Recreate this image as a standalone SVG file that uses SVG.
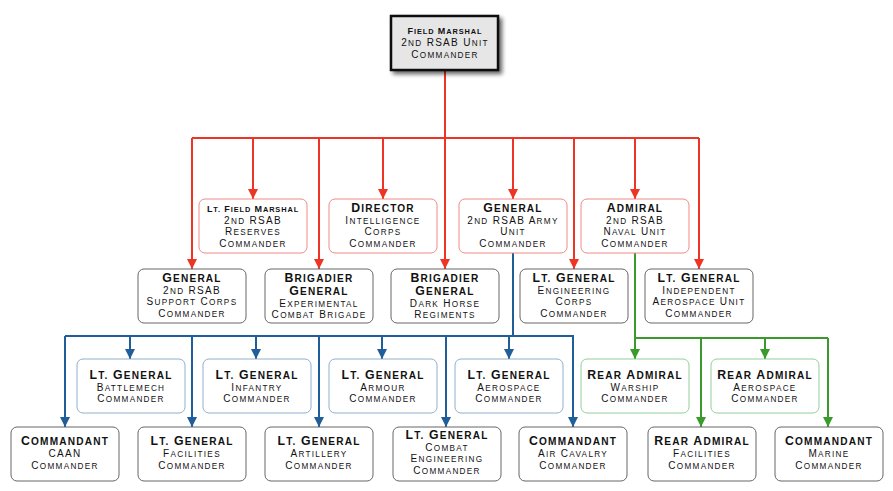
<svg xmlns="http://www.w3.org/2000/svg" width="893" height="491" viewBox="0 0 893 491">
<defs>
<marker id="ar" markerUnits="userSpaceOnUse" markerWidth="10" markerHeight="10" refX="4" refY="8" viewBox="0 0 8 8"><path d="M0,0 L8,0 L4,8 Z" fill="#ee3424"/></marker>
<marker id="ab" markerUnits="userSpaceOnUse" markerWidth="10" markerHeight="10" refX="4" refY="8" viewBox="0 0 8 8"><path d="M0,0 L8,0 L4,8 Z" fill="#1f5e98"/></marker>
<marker id="ag" markerUnits="userSpaceOnUse" markerWidth="10" markerHeight="10" refX="4" refY="8" viewBox="0 0 8 8"><path d="M0,0 L8,0 L4,8 Z" fill="#3a9a2c"/></marker>
<filter id="sh" x="-20%" y="-20%" width="150%" height="160%"><feGaussianBlur in="SourceAlpha" stdDeviation="2"/><feOffset dx="3" dy="3"/><feComponentTransfer><feFuncA type="linear" slope="0.6"/></feComponentTransfer><feMerge><feMergeNode/><feMergeNode in="SourceGraphic"/></feMerge></filter>
</defs>
<style>
text{font-family:"Liberation Sans",Arial,sans-serif;text-anchor:middle;fill:#111}
.l{font-size:0.82em;text-transform:uppercase}
.t{font-size:12.3px;font-weight:bold;letter-spacing:1.2px}
.ts{font-size:9px;font-weight:bold;letter-spacing:0.9px}
.s{font-size:10px;letter-spacing:1.3px}
.n{fill:#fff;stroke:#666;stroke-width:1}
.r{fill:#fff;stroke:#f08a86;stroke-width:1}
.b{fill:#fff;stroke:#8fb0cf;stroke-width:1}
.g{fill:#fff;stroke:#93cf9a;stroke-width:1}
.cr{fill:none;stroke:#ee3424;stroke-width:2}
.cb{fill:none;stroke:#1f5e98;stroke-width:2}
.cg{fill:none;stroke:#3a9a2c;stroke-width:2}
</style>
<g id="connectors">
<path class="cr" d="M445,70 V138 M192,138 H699"/>
<path class="cr" marker-end="url(#ar)" d="M192,138 V269"/>
<path class="cr" marker-end="url(#ar)" d="M253,138 V199"/>
<path class="cr" marker-end="url(#ar)" d="M319,138 V269"/>
<path class="cr" marker-end="url(#ar)" d="M383,138 V199"/>
<path class="cr" marker-end="url(#ar)" d="M445,138 V269"/>
<path class="cr" marker-end="url(#ar)" d="M513,138 V199"/>
<path class="cr" marker-end="url(#ar)" d="M574,138 V269"/>
<path class="cr" marker-end="url(#ar)" d="M635,138 V199"/>
<path class="cr" marker-end="url(#ar)" d="M699,138 V269"/>
<path class="cb" d="M513,253 V336 M65,336 H574"/>
<path class="cb" marker-end="url(#ab)" d="M65,336 V427"/>
<path class="cb" marker-end="url(#ab)" d="M130,336 V359"/>
<path class="cb" marker-end="url(#ab)" d="M192,336 V427"/>
<path class="cb" marker-end="url(#ab)" d="M256,336 V359"/>
<path class="cb" marker-end="url(#ab)" d="M319,336 V427"/>
<path class="cb" marker-end="url(#ab)" d="M382,336 V359"/>
<path class="cb" marker-end="url(#ab)" d="M446,336 V427"/>
<path class="cb" marker-end="url(#ab)" d="M509,336 V359"/>
<path class="cb" marker-end="url(#ab)" d="M573,336 V427"/>
<path class="cg" d="M635,253 V338 H828"/>
<path class="cg" marker-end="url(#ag)" d="M635,338 V359"/>
<path class="cg" marker-end="url(#ag)" d="M701,338 V427"/>
<path class="cg" marker-end="url(#ag)" d="M765,338 V359"/>
<path class="cg" marker-end="url(#ag)" d="M828,338 V427"/>
</g>
<g id="n-fieldmarshal">
<rect x="391" y="16" width="107" height="54" fill="#e6e6e6" stroke="#111" stroke-width="2.5" filter="url(#sh)"/>
<text class="ts" x="445" y="33.5">F<tspan class="l">ield</tspan> M<tspan class="l">arshal</tspan></text>
<text class="s" x="445" y="45.5">2<tspan class="l">nd</tspan> RSAB U<tspan class="l">nit</tspan></text>
<text class="s" x="445" y="57.5">C<tspan class="l">ommander</tspan></text>
</g>
<g id="n-ltfieldmarshal">
<rect class="r" x="199" y="199" width="108" height="54" rx="6"/>
<text class="ts" x="253" y="211.5">L<tspan class="l">t.</tspan> F<tspan class="l">ield</tspan> M<tspan class="l">arshal</tspan></text>
<text class="s" x="253" y="223.8">2<tspan class="l">nd</tspan> RSAB</text>
<text class="s" x="253" y="235.4">R<tspan class="l">eserves</tspan></text>
<text class="s" x="253" y="247">C<tspan class="l">ommander</tspan></text>
</g>
<g id="n-director">
<rect class="r" x="329" y="199" width="108" height="54" rx="6"/>
<text class="t" x="383" y="212">D<tspan class="l">irector</tspan></text>
<text class="s" x="383" y="223.8">I<tspan class="l">ntelligence</tspan></text>
<text class="s" x="383" y="235.4">C<tspan class="l">orps</tspan></text>
<text class="s" x="383" y="247">C<tspan class="l">ommander</tspan></text>
</g>
<g id="n-general-army">
<rect class="r" x="459" y="199" width="108" height="54" rx="6"/>
<text class="t" x="513" y="212">G<tspan class="l">eneral</tspan></text>
<text class="s" x="513" y="223.8">2<tspan class="l">nd</tspan> RSAB A<tspan class="l">rmy</tspan></text>
<text class="s" x="513" y="235.4">U<tspan class="l">nit</tspan></text>
<text class="s" x="513" y="247">C<tspan class="l">ommander</tspan></text>
</g>
<g id="n-admiral">
<rect class="r" x="581" y="199" width="108" height="54" rx="6"/>
<text class="t" x="635" y="212">A<tspan class="l">dmiral</tspan></text>
<text class="s" x="635" y="223.8">2<tspan class="l">nd</tspan> RSAB</text>
<text class="s" x="635" y="235.4">N<tspan class="l">aval</tspan> U<tspan class="l">nit</tspan></text>
<text class="s" x="635" y="247">C<tspan class="l">ommander</tspan></text>
</g>
<g id="n-general-support">
<rect class="n" x="138" y="269" width="108" height="54" rx="6"/>
<text class="t" x="192" y="282">G<tspan class="l">eneral</tspan></text>
<text class="s" x="192" y="293.8">2<tspan class="l">nd</tspan> RSAB</text>
<text class="s" x="192" y="305.4">S<tspan class="l">upport</tspan> C<tspan class="l">orps</tspan></text>
<text class="s" x="192" y="317">C<tspan class="l">ommander</tspan></text>
</g>
<g id="n-brig-experimental">
<rect class="n" x="265" y="269" width="108" height="54" rx="6"/>
<text class="t" x="319" y="281.5">B<tspan class="l">rigadier</tspan></text>
<text class="t" x="319" y="294.5">G<tspan class="l">eneral</tspan></text>
<text class="s" x="319" y="306.5">E<tspan class="l">xperimental</tspan></text>
<text class="s" x="319" y="318">C<tspan class="l">ombat</tspan> B<tspan class="l">rigade</tspan></text>
</g>
<g id="n-brig-darkhorse">
<rect class="n" x="391" y="269" width="108" height="54" rx="6"/>
<text class="t" x="445" y="281.5">B<tspan class="l">rigadier</tspan></text>
<text class="t" x="445" y="294.5">G<tspan class="l">eneral</tspan></text>
<text class="s" x="445" y="306.5">D<tspan class="l">ark</tspan> H<tspan class="l">orse</tspan></text>
<text class="s" x="445" y="318">R<tspan class="l">egiments</tspan></text>
</g>
<g id="n-ltgen-engineering">
<rect class="n" x="520" y="269" width="108" height="54" rx="6"/>
<text class="t" x="574" y="282">L<tspan class="l">t.</tspan> G<tspan class="l">eneral</tspan></text>
<text class="s" x="574" y="293.8">E<tspan class="l">ngineering</tspan></text>
<text class="s" x="574" y="305.4">C<tspan class="l">orps</tspan></text>
<text class="s" x="574" y="317">C<tspan class="l">ommander</tspan></text>
</g>
<g id="n-ltgen-aerospaceunit">
<rect class="n" x="645" y="269" width="108" height="54" rx="6"/>
<text class="t" x="699" y="282">L<tspan class="l">t.</tspan> G<tspan class="l">eneral</tspan></text>
<text class="s" x="699" y="293.8">I<tspan class="l">ndependent</tspan></text>
<text class="s" x="699" y="305.4">A<tspan class="l">erospace</tspan> U<tspan class="l">nit</tspan></text>
<text class="s" x="699" y="317">C<tspan class="l">ommander</tspan></text>
</g>
<g id="n-battlemech">
<rect class="b" x="77" y="359" width="108" height="54" rx="6"/>
<text class="t" x="131" y="378.5">L<tspan class="l">t.</tspan> G<tspan class="l">eneral</tspan></text>
<text class="s" x="131" y="390.5">B<tspan class="l">attlemech</tspan></text>
<text class="s" x="131" y="402">C<tspan class="l">ommander</tspan></text>
</g>
<g id="n-infantry">
<rect class="b" x="203" y="359" width="108" height="54" rx="6"/>
<text class="t" x="257" y="378.5">L<tspan class="l">t.</tspan> G<tspan class="l">eneral</tspan></text>
<text class="s" x="257" y="390.5">I<tspan class="l">nfantry</tspan></text>
<text class="s" x="257" y="402">C<tspan class="l">ommander</tspan></text>
</g>
<g id="n-armour">
<rect class="b" x="329" y="359" width="108" height="54" rx="6"/>
<text class="t" x="383" y="378.5">L<tspan class="l">t.</tspan> G<tspan class="l">eneral</tspan></text>
<text class="s" x="383" y="390.5">A<tspan class="l">rmour</tspan></text>
<text class="s" x="383" y="402">C<tspan class="l">ommander</tspan></text>
</g>
<g id="n-aerospace">
<rect class="b" x="455" y="359" width="108" height="54" rx="6"/>
<text class="t" x="509" y="378.5">L<tspan class="l">t.</tspan> G<tspan class="l">eneral</tspan></text>
<text class="s" x="509" y="390.5">A<tspan class="l">erospace</tspan></text>
<text class="s" x="509" y="402">C<tspan class="l">ommander</tspan></text>
</g>
<g id="n-warship">
<rect class="g" x="581" y="359" width="108" height="54" rx="6"/>
<text class="t" x="635" y="378.5">R<tspan class="l">ear</tspan> A<tspan class="l">dmiral</tspan></text>
<text class="s" x="635" y="390.5">W<tspan class="l">arship</tspan></text>
<text class="s" x="635" y="402">C<tspan class="l">ommander</tspan></text>
</g>
<g id="n-ra-aerospace">
<rect class="g" x="711" y="359" width="108" height="54" rx="6"/>
<text class="t" x="765" y="378.5">R<tspan class="l">ear</tspan> A<tspan class="l">dmiral</tspan></text>
<text class="s" x="765" y="390.5">A<tspan class="l">erospace</tspan></text>
<text class="s" x="765" y="402">C<tspan class="l">ommander</tspan></text>
</g>
<g id="n-caan">
<rect class="n" x="11" y="427" width="108" height="54" rx="6"/>
<text class="t" x="65" y="445">C<tspan class="l">ommandant</tspan></text>
<text class="s" x="65" y="457">CAAN</text>
<text class="s" x="65" y="468.8">C<tspan class="l">ommander</tspan></text>
</g>
<g id="n-facilities">
<rect class="n" x="138" y="427" width="108" height="54" rx="6"/>
<text class="t" x="192" y="445">L<tspan class="l">t.</tspan> G<tspan class="l">eneral</tspan></text>
<text class="s" x="192" y="457">F<tspan class="l">acilities</tspan></text>
<text class="s" x="192" y="468.8">C<tspan class="l">ommander</tspan></text>
</g>
<g id="n-artillery">
<rect class="n" x="265" y="427" width="108" height="54" rx="6"/>
<text class="t" x="319" y="445">L<tspan class="l">t.</tspan> G<tspan class="l">eneral</tspan></text>
<text class="s" x="319" y="457">A<tspan class="l">rtillery</tspan></text>
<text class="s" x="319" y="468.8">C<tspan class="l">ommander</tspan></text>
</g>
<g id="n-combateng">
<rect class="n" x="393" y="427" width="108" height="54" rx="6"/>
<text class="t" x="447" y="439">L<tspan class="l">t.</tspan> G<tspan class="l">eneral</tspan></text>
<text class="s" x="447" y="450.5">C<tspan class="l">ombat</tspan></text>
<text class="s" x="447" y="462">E<tspan class="l">ngineering</tspan></text>
<text class="s" x="447" y="474">C<tspan class="l">ommander</tspan></text>
</g>
<g id="n-aircavalry">
<rect class="n" x="519" y="427" width="108" height="54" rx="6"/>
<text class="t" x="573" y="445">C<tspan class="l">ommandant</tspan></text>
<text class="s" x="573" y="457">A<tspan class="l">ir</tspan> C<tspan class="l">avalry</tspan></text>
<text class="s" x="573" y="468.8">C<tspan class="l">ommander</tspan></text>
</g>
<g id="n-ra-facilities">
<rect class="n" x="648" y="427" width="108" height="54" rx="6"/>
<text class="t" x="702" y="445">R<tspan class="l">ear</tspan> A<tspan class="l">dmiral</tspan></text>
<text class="s" x="702" y="457">F<tspan class="l">acilities</tspan></text>
<text class="s" x="702" y="468.8">C<tspan class="l">ommander</tspan></text>
</g>
<g id="n-marine">
<rect class="n" x="775" y="427" width="108" height="54" rx="6"/>
<text class="t" x="829" y="445">C<tspan class="l">ommandant</tspan></text>
<text class="s" x="829" y="457">M<tspan class="l">arine</tspan></text>
<text class="s" x="829" y="468.8">C<tspan class="l">ommander</tspan></text>
</g>
</svg>
